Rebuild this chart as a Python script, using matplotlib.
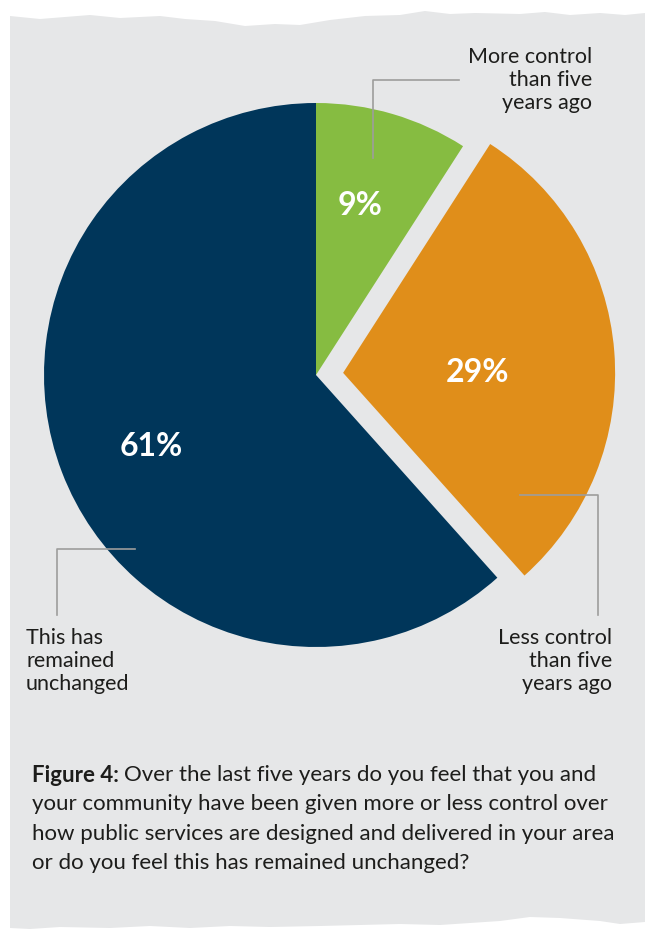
import matplotlib
matplotlib.use("Agg")
import matplotlib.pyplot as plt
from matplotlib.patches import Polygon
import numpy as np

# survey answers (percent)
categories = ["More control than five years ago",
              "Less control than five years ago",
              "This has remained unchanged"]
shares = [9, 29, 61]
pct_labels = ["9%", "29%", "61%"]
colors = ["#86bc41", "#e08e1a", "#00365a"]

caption_bold = "Figure 4:"
caption = ["Over the last five years do you feel that you and",
           "your community have been given more or less control over",
           "how public services are designed and delivered in your area",
           "or do you feel this has remained unchanged?"]

W, H = 645, 931
BG = "#e6e7e8"
TXT = "#1d1d1b"
LEAD = "#9d9d9c"

plt.rcParams['font.family'] = ['Lato', 'DejaVu Sans']

fig = plt.figure(figsize=(W / 100, H / 100), dpi=100)
fig.patch.set_facecolor("white")
ax = fig.add_axes([0, 0, 1, 1])


def py(y):
    # pixel row measured from the top -> axes y
    return H - y


# torn paper panel
top_edge = [(10, 16), (40, 19), (90, 15), (120, 18), (160, 16), (185, 19),
            (215, 21), (245, 26), (275, 24), (300, 25), (330, 20), (365, 16),
            (400, 15), (425, 11), (450, 14), (475, 13), (520, 14), (545, 12),
            (570, 15), (600, 13), (625, 15), (645, 13)]
bottom_edge = [(645, 922), (620, 924), (600, 921), (560, 918), (530, 917),
               (500, 921), (470, 923), (440, 925), (400, 924), (360, 925),
               (320, 926), (270, 927), (230, 926), (190, 928), (150, 926),
               (110, 928), (60, 927), (30, 929), (10, 928)]
outline = [(x, py(y)) for x, y in top_edge + bottom_edge]
ax.add_patch(Polygon(outline, closed=True, facecolor=BG, edgecolor="none", zorder=0))

# pie (explode is in data units here, so scale by the radius)
R = 272
cx, cy = 316, py(375)
wedges, _ = ax.pie(shares, colors=colors, startangle=90, counterclock=False,
                   explode=[0, 0.1 * R, 0], radius=R, center=(cx, cy),
                   wedgeprops=dict(linewidth=0))
for w in wedges:
    w.set_zorder(2)

ax.set_xlim(0, W)
ax.set_ylim(0, H)
ax.set_aspect("auto")
ax.axis("off")

# value labels inside slices: fraction of radius and a small turn off the bisector
label_r = [0.645, 0.493, 0.66]
label_turn = [1.9, -4.5, 2.4]
for w, txt, f, dt in zip(wedges, pct_labels, label_r, label_turn):
    mid = np.deg2rad((w.theta1 + w.theta2) / 2 + dt)
    x = w.center[0] + f * w.r * np.cos(mid)
    y = w.center[1] + f * w.r * np.sin(mid)
    ax.text(x, y, txt, color="white", fontsize=23, fontweight="bold",
            ha="center", va="center", zorder=3)

# leader lines
ax.plot([373, 373, 459], [py(158), py(80), py(80)], color=LEAD, lw=1.2, zorder=3)
ax.plot([520, 598, 598], [py(495), py(495), py(615)], color=LEAD, lw=1.2, zorder=3)
ax.plot([135, 57, 57], [py(549), py(549), py(615)], color=LEAD, lw=1.2, zorder=3)

# category labels
lab = dict(color=TXT, fontsize=15.5, va="top", linespacing=1.2)
ax.text(592, py(47), "More control\nthan five\nyears ago",
        ha="right", multialignment="right", **lab)
ax.text(612, py(628), "Less control\nthan five\nyears ago",
        ha="right", multialignment="right", **lab)
ax.text(26, py(628), "This has\nremained\nunchanged",
        ha="left", multialignment="left", **lab)

# caption, one text per line
cap = dict(color=TXT, fontsize=16, va="top")
cap_top, cap_step = 765, 29.3
t = ax.text(32, py(cap_top), caption_bold, fontweight="bold", ha="left", **cap)
ax.annotate(caption[0], xy=(1, 1), xycoords=t, xytext=(4, 0),
            textcoords="offset points", ha="left", **cap)
for i, line in enumerate(caption[1:], start=1):
    ax.text(32, py(cap_top + i * cap_step), line, ha="left", **cap)

fig.savefig("out.png", dpi=100, facecolor="white")
